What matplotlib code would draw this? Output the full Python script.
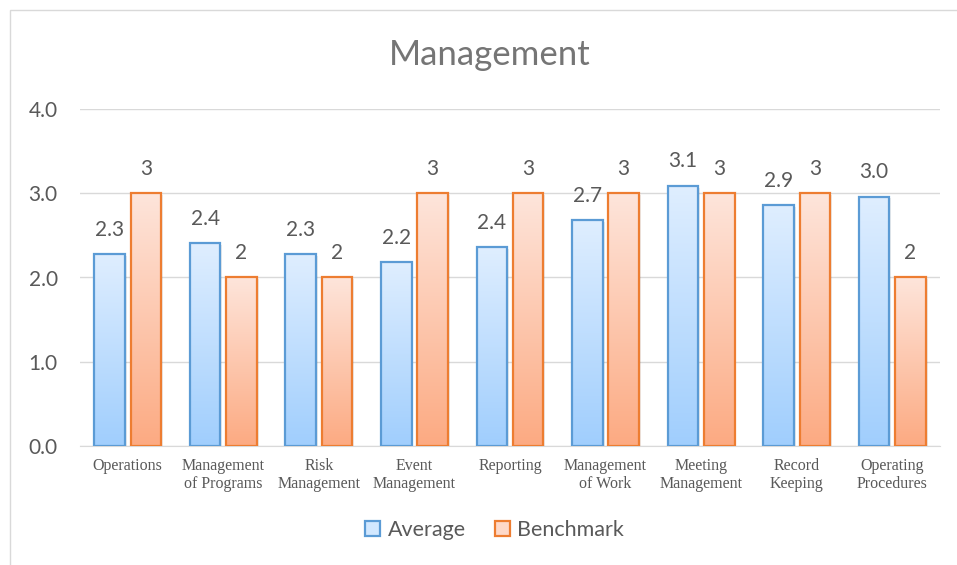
import numpy as np
import matplotlib
matplotlib.use('Agg')
import matplotlib.pyplot as plt
import matplotlib.colors as mcolors
from matplotlib.patches import Rectangle, Patch
from matplotlib.legend_handler import HandlerPatch

# Chart data
categories = ['Operations', 'Management\nof Programs', 'Risk\nManagement', 'Event\nManagement',
              'Reporting', 'Management\nof Work', 'Meeting\nManagement', 'Record\nKeeping',
              'Operating\nProcedures']
average = [2.28, 2.41, 2.28, 2.18, 2.36, 2.68, 3.09, 2.86, 2.96]
benchmark = [3, 2, 2, 3, 3, 3, 3, 3, 2]

# Gradient colours (bottom -> top) and edges, Excel style
blue_grad = mcolors.LinearSegmentedColormap.from_list('blue_grad', ['#a0cefd', '#dfeeff'])
orange_grad = mcolors.LinearSegmentedColormap.from_list('orange_grad', ['#fcaa82', '#fee5db'])
blue_edge = '#5b9bd5'
orange_edge = '#ed7d31'
text_gray = '#595959'

W, H = 957, 565
fig = plt.figure(figsize=(W / 100, H / 100), dpi=100)

# outer chart border
fig.patches.append(Rectangle((10 / W, -0.1), 1.2, 1 - 10 / H + 0.1, transform=fig.transFigure,
                             fill=False, edgecolor='#d9d9d9', linewidth=1))

ax = fig.add_axes([80 / W, 1 - 445.7 / H, 860 / W, (445.7 - 109.3) / H])
ax.set_xlim(-0.5, len(categories) - 0.5)
ax.set_ylim(0, 4)

grad = np.linspace(0, 1, 256).reshape(-1, 1)


def draw_bars(values, offset, cmap, edge):
    bars = ax.bar(np.arange(len(values)) + offset, values, width=0.32,
                  facecolor='none', edgecolor=edge, linewidth=1.6, zorder=3)
    for b in bars:
        x0, y0 = b.get_x(), b.get_y()
        w, h = b.get_width(), b.get_height()
        # soft shadow
        ax.add_patch(Rectangle((x0 + 0.02, y0 - 0.02), w, h, facecolor='#000000',
                               alpha=0.08, edgecolor='none', zorder=1))
        im = ax.imshow(grad, cmap=cmap, aspect='auto', origin='lower',
                       extent=[x0, x0 + w, y0, y0 + h], zorder=2)
        im.set_clip_path(b)
    return bars


draw_bars(average, -0.19, blue_grad, blue_edge)
draw_bars(benchmark, 0.19, orange_grad, orange_edge)

for i, v in enumerate(average):
    ax.text(i - 0.19, v + 0.29, '%.1f' % v, ha='center', va='center',
            fontsize=15, color=text_gray, family='Lato')
for i, v in enumerate(benchmark):
    ax.text(i + 0.19, v + 0.29, '%d' % v, ha='center', va='center',
            fontsize=15, color=text_gray, family='Lato')

ax.set_yticks([0, 1, 2, 3, 4])
ax.set_yticklabels(['0.0', '1.0', '2.0', '3.0', '4.0'], family='Lato', fontsize=15, color=text_gray)
ax.set_xticks(np.arange(len(categories)))
ax.set_xticklabels(categories, family='Liberation Serif', fontsize=11.5, color=text_gray,
                   linespacing=1.15)
ax.tick_params(axis='both', length=0)
ax.tick_params(axis='y', pad=16)
ax.tick_params(axis='x', pad=9)
ax.grid(axis='y', color='#d9d9d9', linewidth=1, zorder=0)
ax.set_axisbelow(True)
for s in ['top', 'right', 'left']:
    ax.spines[s].set_visible(False)
ax.spines['bottom'].set_color('#d9d9d9')

fig.text(490 / W, 1 - 55 / H, 'Management', ha='center', va='center',
         fontsize=25, color='#757575', family='Lato')


class GradHandler(HandlerPatch):
    def __init__(self, cmap, **kw):
        self.cmap = cmap
        super().__init__(**kw)

    def create_artists(self, legend, orig_handle, xdescent, ydescent, width, height, fontsize, trans):
        s = height * 1.0
        x = -xdescent + (width - s) / 2
        y = -ydescent + (height - s) / 2
        sq = Rectangle((x, y), s, s, facecolor=self.cmap(0.8), edgecolor=orig_handle.get_edgecolor(),
                       linewidth=1.6, transform=trans)
        return [sq]


h1 = Patch(edgecolor=blue_edge, label='Average')
h2 = Patch(edgecolor=orange_edge, label='Benchmark')
fig.legend(handles=[h1, h2], loc='center', bbox_to_anchor=(494 / W, 1 - 530 / H),
           ncol=2, frameon=False, prop={'family': 'Lato', 'size': 15.5}, labelcolor=text_gray,
           handlelength=0.8, handletextpad=0.3, columnspacing=1.3,
           handler_map={h1: GradHandler(blue_grad), h2: GradHandler(orange_grad)})

fig.savefig('out.png', dpi=100)
